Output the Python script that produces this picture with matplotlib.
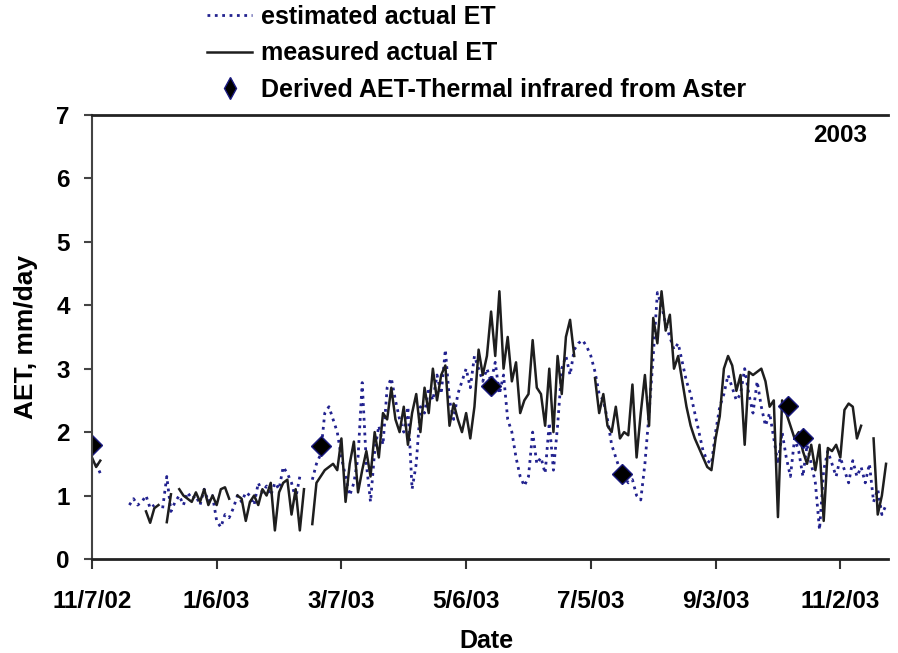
import numpy as np
import pandas as pd
import matplotlib
matplotlib.use("Agg")
import matplotlib.pyplot as plt
from matplotlib.lines import Line2D

plt.rcParams['font.family'] = ['Liberation Sans', 'DejaVu Sans']
plt.rcParams['font.weight'] = 'bold'

nan = np.nan

# every second day from 11/7/02
start = pd.Timestamp("2002-11-07")

measured = [
    1.6, 1.45, 1.55, nan, nan, nan, nan, nan, nan, nan,
    nan, nan, nan, 0.75, 0.57, 0.8, 0.85, nan, 0.58, 1.02,
    nan, 1.1, 1.0, 0.95, 0.9, 1.05, 0.9, 1.1, 0.85, 1.0,
    0.85, 1.1, 1.13, 0.95, nan, 1.0, 0.95, 0.6, 0.9, 1.0,
    0.85, 1.1, 1.0, 1.2, 0.45, 1.05, 1.2, 1.25, 0.7, 1.1,
    0.45, 1.1, nan, 0.55, 1.2, 1.3, 1.4, 1.45, 1.5, 1.4,
    1.9, 0.9, 1.5, 1.85, 1.05, 1.4, 1.7, 1.3, 2.0, 1.6,
    2.3, 2.2, 2.7, 2.2, 2.0, 2.4, 1.8, 2.3, 2.6, 2.0,
    2.7, 2.3, 3.0, 2.5, 2.9, 3.05, 2.1, 2.45, 2.2, 2.0,
    2.3, 1.9, 2.4, 3.3, 2.9, 3.2, 3.9, 3.2, 4.22, 3.0,
    3.5, 2.8, 3.1, 2.3, 2.5, 2.6, 3.45, 2.7, 2.6, 2.1,
    3.0, 2.0, 3.2, 2.6, 3.5, 3.77, 3.2, nan, nan, nan,
    nan, 2.85, 2.3, 2.6, 2.1, 2.0, 2.4, 1.9, 2.0, 1.95,
    2.75, 1.6, 2.3, 2.9, 2.1, 3.8, 3.4, 4.22, 3.6, 3.85,
    3.0, 3.2, 2.8, 2.4, 2.1, 1.9, 1.75, 1.6, 1.45, 1.4,
    1.9, 2.25, 3.0, 3.2, 3.05, 2.65, 2.9, 1.8, 2.95, 2.9,
    2.95, 3.0, 2.8, 2.4, 2.5, 0.66, 2.5, 2.3, 2.1, 1.9,
    2.0, 1.7, 1.5, 1.8, 1.4, 1.8, 0.6, 1.75, 1.7, 1.8,
    1.6, 2.35, 2.45, 2.4, 1.9, 2.1, nan, nan, 1.9, 0.7,
    1.0, 1.5,
]

estimated = [
    nan, 1.5, 1.35, nan, nan, 0.83, nan, nan, nan, 0.85,
    0.95, 0.85, 0.9, 1.0, 0.8, 0.85, nan, 0.8, 1.3, 0.75,
    0.9, 1.0, 0.85, 1.05, 0.95, 1.0, 0.85, 1.1, 0.9, 1.0,
    0.6, 0.5, 0.7, 0.65, 0.8, 1.0, 0.9, 1.05, 1.0, 0.85,
    1.2, 1.05, 1.15, 1.0, 1.2, 1.1, 1.45, 1.35, 1.2, 0.95,
    1.3, nan, nan, 1.25, 1.5, 1.65, 2.3, 2.4, 2.2, 2.0,
    1.6, 1.3, 1.0, 1.2, 1.6, 2.78, 1.5, 0.9, 1.7, 2.1,
    1.8, 2.7, 2.85, 2.5, 2.2, 2.0, 2.4, 1.1, 1.5, 2.4,
    2.3, 2.7, 2.5, 2.9, 2.6, 3.3, 2.5, 2.2, 2.6, 2.8,
    3.0, 2.7, 3.2, 3.0, 2.8, 3.0, 2.8, 3.1, 2.6, 2.9,
    2.2, 2.0, 1.6, 1.3, 1.15, 1.3, 2.0, 1.5, 1.6, 1.35,
    2.15, 1.4, 2.1, 3.0, 3.2, 2.9, 3.3, 3.4, 3.45, 3.35,
    3.2, 2.95, 2.6, 2.5, 2.2, 1.8, 1.6, 1.4, 1.3, 1.2,
    1.25, 1.0, 0.93, 1.5, 2.3, 3.2, 4.2, 4.0, 3.7, 3.5,
    3.3, 3.4, 3.1, 2.8, 2.6, 2.3, 2.0, 1.7, 1.55, 1.5,
    2.0, 2.4, 2.6, 2.9, 2.7, 2.5, 2.6, 3.0, 2.6, 2.3,
    2.8, 2.4, 2.1, 2.3, 1.9, 1.5, 2.0, 1.6, 1.3, 1.9,
    1.7, 1.3, 1.8, 1.5, 1.2, 0.46, 1.4, 1.7, 1.5, 1.3,
    1.6, 1.4, 1.2, 1.55, 1.3, 1.45, 1.2, 1.5, 0.9, 1.1,
    0.7, 0.85,
]

aster_dates = ["2002-11-07", "2003-02-25", "2003-05-18",
               "2003-07-20", "2003-10-08", "2003-10-15"]
aster_aet = [1.8, 1.78, 2.72, 1.34, 2.41, 1.91]

dates = pd.date_range(start, periods=len(measured), freq="2D")
tick_dates = pd.date_range(start, periods=7, freq="60D")
tick_labels = [f"{d.month}/{d.day}/{d:%y}" for d in tick_dates]

fig = plt.figure(figsize=(8.98, 6.53), dpi=100)
ax = fig.add_axes([0.1024, 0.144, 0.8866, 0.68])

ax.plot(dates, estimated, linestyle=":", color="#22228f", lw=2)
ax.plot(dates, measured, linestyle="-", color="#1e1e1e", lw=1.8)
ax.plot(pd.to_datetime(aster_dates), aster_aet, linestyle="none", marker="D",
        ms=10, mfc="black", mec="#1a1a80", mew=1)

ax.set_xlim(start, start + pd.Timedelta(days=383))
ax.set_ylim(0, 7)
ax.set_yticks(range(8))
ax.set_xticks(tick_dates)
ax.set_xticklabels(tick_labels)

ax.spines['right'].set_visible(False)
ax.spines['left'].set_color("#444444")
ax.spines['left'].set_linewidth(1.5)
ax.spines['bottom'].set_color("#222222")
ax.spines['bottom'].set_linewidth(2)
ax.spines['top'].set_color("#222222")
ax.spines['top'].set_linewidth(2)

ax.tick_params(axis='y', direction='out', length=6, width=1.5,
               color="#444444", labelsize=17.5, pad=10)
ax.tick_params(axis='x', direction='out', length=7, width=1.5,
               color="#333333", labelsize=17.5, pad=15)

ax.set_ylabel("AET, mm/day", fontsize=19, fontweight='bold')
ax.yaxis.set_label_coords(-0.068, 0.5)
ax.set_xlabel("Date", fontsize=18, fontweight='bold')
ax.xaxis.set_label_coords(0.495, -0.158)

fig.text(840 / 898, 1 - 136 / 653, "2003", ha="center", va="center",
         fontsize=17.5, fontweight='bold')

handles = [
    Line2D([], [], linestyle=":", color="#22228f", lw=2),
    Line2D([], [], linestyle="-", color="#1e1e1e", lw=1.8),
    Line2D([], [], linestyle="none", marker="d", ms=11, mfc="black",
           mec="#1a1a80"),
]
labels = ["estimated actual ET", "measured actual ET",
          "Derived AET-Thermal infrared from Aster"]
ax.legend(handles, labels, loc="upper left",
          bbox_to_anchor=(207 / 898, 1 - 5 / 653),
          bbox_transform=fig.transFigure, frameon=False, fontsize=18,
          handlelength=1.8, handletextpad=0.35, labelspacing=0.5,
          borderpad=0, borderaxespad=0)

fig.savefig("out.png", dpi=100)
